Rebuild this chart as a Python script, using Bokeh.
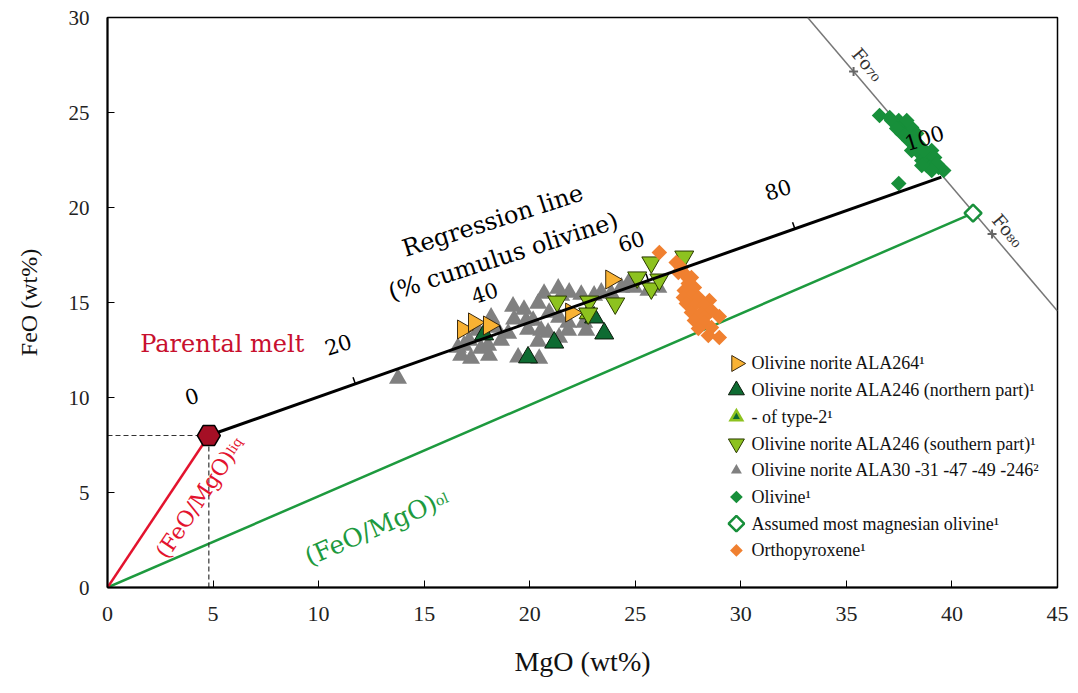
import numpy as np
from bokeh.plotting import figure
from bokeh.models import Range1d, FixedTicker
from bokeh.core.properties import value
from bokeh.embed import file_html
from bokeh.resources import INLINE

SERIF = "Liberation Serif"
WIDE_SERIF = "DejaVu Serif"

# ---- measured compositions (wt%) ----
ala264_mgo = [16.84, 17.36, 18.07, 21.96, 23.86]
ala264_feo = [13.58, 13.95, 13.79, 14.47, 16.21]

north_mgo = [17.84, 19.92, 21.16, 23.53, 23.05]
north_feo = [13.32, 12.11, 12.89, 13.37, 14.21]

type2_mgo = [22.77]
type2_feo = [14.42]

south_mgo = [21.30, 22.82, 24.05, 22.77, 25.09, 25.76, 25.76, 26.14, 27.32]
south_feo = [15.05, 15.05, 14.95, 14.42, 16.32, 17.11, 15.74, 16.21, 17.42]

gray_mgo = [13.76, 16.75, 16.89, 17.22, 17.13, 17.69, 18.07, 18.03, 18.17, 18.41,
            18.64, 18.98, 19.21, 19.26, 19.45, 19.73, 19.83, 19.92, 20.16, 20.40,
            20.45, 20.40, 20.68, 20.92, 20.87, 20.54, 21.35, 21.39, 21.39, 21.49,
            21.82, 21.82, 21.87, 22.44, 22.58, 22.68, 23.05, 23.39, 23.86, 24.34,
            24.67, 24.95, 25.62, 26.09, 17.55, 16.60]
gray_feo = [11.00, 12.21, 12.74, 12.05, 13.00, 12.58, 12.21, 12.74, 14.21, 13.68,
            13.00, 13.37, 14.79, 14.11, 12.11, 14.63, 14.05, 13.58, 14.05, 12.95,
            12.05, 14.95, 15.47, 14.47, 13.42, 13.53, 15.74, 14.21, 13.16, 15.37,
            13.95, 13.53, 15.53, 15.42, 13.95, 13.53, 15.37, 15.53, 15.47, 15.79,
            16.00, 15.79, 15.63, 15.79, 13.53, 12.63]

olivine_mgo = [36.57, 37.05, 37.48, 37.76, 37.95, 37.62, 38.09, 37.62, 38.33, 38.19,
               37.95, 38.33, 38.24, 38.57, 39.04, 38.47, 38.80, 38.57, 38.95, 38.80,
               39.14, 39.37, 39.61, 37.48, 37.14, 37.38, 37.86, 37.76, 38.09, 38.66,
               39.18, 39.28, 39.04, 38.57]
olivine_feo = [24.84, 24.74, 24.58, 24.32, 24.05, 24.21, 24.21, 23.89, 23.89, 23.68,
               23.53, 23.42, 23.16, 23.16, 23.00, 22.84, 22.74, 22.47, 22.58, 22.21,
               22.32, 22.11, 21.95, 21.26, 24.58, 24.16, 24.58, 23.79, 23.00, 23.00,
               22.63, 22.32, 21.95, 22.21]

assumed_mgo = [41.0]
assumed_feo = [19.7]

opx_mgo = [26.14, 26.94, 27.18, 27.04, 27.32, 27.51, 27.66, 27.51, 27.80, 27.32,
           27.66, 27.28, 27.99, 28.51, 27.42, 27.80, 28.27, 28.61, 27.66, 28.13,
           28.98, 28.27, 27.80, 28.27, 27.99, 28.61, 28.46, 28.98]
opx_feo = [17.63, 17.11, 16.84, 16.58, 16.53, 16.26, 16.32, 16.00, 15.79, 15.63,
           15.37, 15.26, 15.26, 15.11, 14.95, 14.84, 14.84, 14.58, 14.47, 14.42,
           14.26, 14.21, 14.05, 13.95, 13.63, 13.68, 13.26, 13.16]

# parental melt and end of the regression line (100 % cumulus olivine)
melt_mgo, melt_feo = 4.8, 8.0
reg_end_mgo, reg_end_feo = 39.5, 21.6

# forsterite isopleth through Fo70 and Fo80
fo_mgo = [35.34, 41.9]
fo_feo = [27.16, 18.6]
fo_labels = ["Fo\u2087\u2080", "Fo\u2088\u2080"]

pct_values = [0, 20, 40, 60, 80, 100]
pct_labels = ["0", "20", "40", "60", "80", "100"]

x_ticks = [0, 5, 10, 15, 20, 25, 30, 35, 40, 45]
y_ticks = [0, 5, 10, 15, 20, 25, 30]

legend_labels = [
    "Olivine norite ALA264\u00b9",
    "Olivine norite ALA246 (northern part)\u00b9",
    "- of type-2\u00b9",
    "Olivine norite ALA246 (southern part)\u00b9",
    "Olivine norite ALA30 -31 -47 -49 -246\u00b2",
    "Olivine\u00b9",
    "Assumed most magnesian olivine\u00b9",
    "Orthopyroxene\u00b9",
]

# ---- colours ----
C_ORANGE_TRI = "#f9b233"
C_DARKGREEN = "#0e6b32"
C_LIME = "#8dc21f"
C_GRAY = "#808080"
C_OLIVINE = "#178f3a"
C_OPX = "#f08030"
C_RED = "#e3132e"
C_MELT = "#a50f25"
C_GREEN_LINE = "#1d9a3e"

X0, X1, Y0, Y1 = 0, 45, 0, 30
FRAME_W, FRAME_H = 950, 570
sx = FRAME_W / (X1 - X0)  # px per MgO unit
sy = FRAME_H / (Y1 - Y0)  # px per FeO unit

p = figure(width=1078, height=693, x_range=Range1d(X0, X1), y_range=Range1d(Y0, Y1),
           output_backend="svg", toolbar_location=None,
           min_border_left=107, min_border_right=21, min_border_top=17, min_border_bottom=106)
p.background_fill_color = "white"
p.border_fill_color = "white"
p.grid.visible = False
p.outline_line_color = "black"
p.outline_line_width = 1.5

for ax in (p.xaxis[0], p.yaxis[0]):
    ax.axis_line_width = 2
    ax.axis_line_color = "black"
    ax.major_tick_in = 7
    ax.major_tick_out = 0
    ax.minor_tick_in = 0
    ax.minor_tick_out = 0
    ax.major_tick_line_color = "black"
    ax.major_label_text_font = SERIF
    ax.major_label_text_color = "#222222"
    ax.axis_label_text_font = SERIF
    ax.axis_label_text_font_style = "normal"
    ax.axis_label_text_color = "#111111"

p.xaxis.ticker = FixedTicker(ticks=x_ticks)
p.yaxis.ticker = FixedTicker(ticks=y_ticks)
p.xaxis.axis_label = "MgO (wt%)"
p.yaxis.axis_label = "FeO (wt%)"
p.xaxis.major_label_text_font_size = "22px"
p.yaxis.major_label_text_font_size = "21px"
p.xaxis.axis_label_text_font_size = "28px"
p.yaxis.axis_label_text_font_size = "24px"
p.xaxis.major_label_standoff = 19
p.yaxis.major_label_standoff = 18
p.xaxis.axis_label_standoff = 22
p.yaxis.axis_label_standoff = 24

# ---- reference lines ----
p.line([0, assumed_mgo[0]], [0, assumed_feo[0]], line_color=C_GREEN_LINE, line_width=2.5)
p.line([0, melt_mgo], [0, melt_feo], line_color=C_RED, line_width=2.5)
p.line([0, melt_mgo], [melt_feo, melt_feo], line_color="#333333", line_width=1.2, line_dash="5 3")
p.line([melt_mgo, melt_mgo], [0, melt_feo], line_color="#333333", line_width=1.2, line_dash="5 3")

fo_slope = (fo_feo[1] - fo_feo[0]) / (fo_mgo[1] - fo_mgo[0])
fo_x_top = fo_mgo[0] + (Y1 - fo_feo[0]) / fo_slope
fo_y_right = fo_feo[0] + fo_slope * (X1 - fo_mgo[0])
p.line([fo_x_top, X1], [Y1, fo_y_right], line_color="#777777", line_width=1.5)
p.scatter(fo_mgo, fo_feo, marker="cross", size=9, line_color="#666666", line_width=2)

# ---- data points ----
p.scatter(gray_mgo, gray_feo, marker="triangle", size=18, fill_color=C_GRAY, line_color=None)
p.scatter(type2_mgo, type2_feo, marker="triangle", size=18, fill_color=C_LIME, line_color="#2a3a00")
p.scatter(type2_mgo, type2_feo, marker="triangle", size=7, fill_color=C_DARKGREEN, line_color=None)
p.scatter(north_mgo, north_feo, marker="triangle", size=19, fill_color=C_DARKGREEN,
          line_color="#0a1a0a", line_width=1)
p.scatter(ala264_mgo, ala264_feo, marker="triangle", angle=-np.pi / 2, size=19,
          fill_color=C_ORANGE_TRI, line_color="#3b2a10", line_width=1)
p.scatter(south_mgo, south_feo, marker="inverted_triangle", size=19, fill_color=C_LIME,
          line_color="#2a3a00", line_width=1)
p.scatter(opx_mgo, opx_feo, marker="square", angle=np.pi / 4, size=11, fill_color=C_OPX, line_color=None)
p.scatter(olivine_mgo, olivine_feo, marker="square", angle=np.pi / 4, size=11,
          fill_color=C_OLIVINE, line_color=None)
p.scatter(assumed_mgo, assumed_feo, marker="square", angle=np.pi / 4, size=12,
          fill_color="white", line_color=C_OLIVINE, line_width=2.5)

# ---- regression line (% cumulus olivine) ----
p.line([melt_mgo, reg_end_mgo], [melt_feo, reg_end_feo], line_color="black", line_width=3)
dxp = (reg_end_mgo - melt_mgo) * sx
dyp = (reg_end_feo - melt_feo) * sy
norm = np.hypot(dxp, dyp)
ux, uy = dxp / norm, dyp / norm           # along the line, screen px (y up)
nx, ny = -uy, ux                          # normal pointing upward
frac = np.array(pct_values) / 100.0
tick_x = melt_mgo + frac * (reg_end_mgo - melt_mgo)
tick_y = melt_feo + frac * (reg_end_feo - melt_feo)
inner = (frac > 0) & (frac < 1)
tick_len = 7
p.segment(tick_x[inner], tick_y[inner],
          tick_x[inner] + nx * tick_len / sx, tick_y[inner] + ny * tick_len / sy,
          line_color="black", line_width=1.5)
line_angle = np.arctan2(dyp, dxp)
p.text(tick_x - 17 / sx, tick_y + 39 / sy, text=pct_labels, angle=line_angle * 0.9,
       text_font=value(WIDE_SERIF), text_font_size="21px", text_color="black",
       text_align="center", text_baseline="middle")

p.text([18.25], [19.3], text=["Regression line"], angle=0.31,
       text_font=value(WIDE_SERIF), text_font_size="24px", text_color="black",
       text_align="center", text_baseline="middle")
p.text([18.75], [17.42], text=["(% cumulus olivine)"], angle=0.31,
       text_font=value(WIDE_SERIF), text_font_size="24px", text_color="black",
       text_align="center", text_baseline="middle")

# parental melt
p.scatter([melt_mgo], [melt_feo], marker="hex", size=23, fill_color=C_MELT,
          line_color="black", line_width=1.5)
p.text([1.55], [12.8], text=["Parental melt"], text_font=value(WIDE_SERIF), text_font_size="24px",
       text_color="#c8102e", text_align="left", text_baseline="middle")

# ratio labels along the red and green lines
liq_angle = np.arctan2(melt_feo * sy, melt_mgo * sx)
p.text([5.8], [7.1], text=["(FeO/MgO)"], angle=liq_angle, text_font=value(WIDE_SERIF),
       text_font_size="22px", text_color=C_RED, text_align="right", text_baseline="alphabetic")
p.text([5.8], [7.1], text=["liq"], angle=liq_angle, text_font=value(WIDE_SERIF),
       text_font_size="13px", text_color=C_RED, text_align="left", text_baseline="middle")
ol_angle = np.arctan2(assumed_feo[0] * sy, assumed_mgo[0] * sx)
p.text([15.55], [4.5], text=["(FeO/MgO)"], angle=ol_angle, text_font=value(WIDE_SERIF),
       text_font_size="25px", text_color=C_GREEN_LINE, text_align="right", text_baseline="alphabetic")
p.text([15.55], [4.5], text=["ol"], angle=ol_angle, text_font=value(WIDE_SERIF),
       text_font_size="14px", text_color=C_GREEN_LINE, text_align="left", text_baseline="middle")

# Fo labels
fo_angle = np.arctan2(fo_slope * sy, sx)
p.text([36.0, 42.65], [27.53, 18.79], text=fo_labels, angle=fo_angle,
       text_font=value(WIDE_SERIF), text_font_size="18px", text_color="#333333",
       text_align="center", text_baseline="middle")

# ---- legend ----
leg_x = 29.79
leg_tx = 30.5
leg_y0 = 11.79
leg_dy = 26.7 / sy
rows = leg_y0 - leg_dy * np.arange(len(legend_labels))
p.scatter([leg_x], [rows[0]], marker="triangle", angle=-np.pi / 2, size=16,
          fill_color=C_ORANGE_TRI, line_color="#3b2a10", line_width=1)
p.scatter([leg_x], [rows[1]], marker="triangle", size=16, fill_color=C_DARKGREEN,
          line_color="#0a1a0a", line_width=1)
p.scatter([leg_x], [rows[2]], marker="triangle", size=16, fill_color=C_LIME, line_color=None)
p.scatter([leg_x], [rows[2]], marker="triangle", size=7, fill_color=C_DARKGREEN, line_color=None)
p.scatter([leg_x], [rows[3]], marker="inverted_triangle", size=16, fill_color=C_LIME,
          line_color="#2a3a00", line_width=1)
p.scatter([leg_x], [rows[4]], marker="triangle", size=11, fill_color=C_GRAY, line_color=None)
p.scatter([leg_x], [rows[5]], marker="square", angle=np.pi / 4, size=9,
          fill_color=C_OLIVINE, line_color=None)
p.scatter([leg_x], [rows[6]], marker="square", angle=np.pi / 4, size=11,
          fill_color="white", line_color=C_OLIVINE, line_width=2.5)
p.scatter([leg_x], [rows[7]], marker="square", angle=np.pi / 4, size=9,
          fill_color=C_OPX, line_color=None)
p.text([leg_tx] * len(legend_labels), list(rows), text=legend_labels,
       text_font=value(SERIF), text_font_size="18px", text_color="#111111",
       text_align="left", text_baseline="middle")

open("out.html", "w").write(file_html(p, INLINE))
